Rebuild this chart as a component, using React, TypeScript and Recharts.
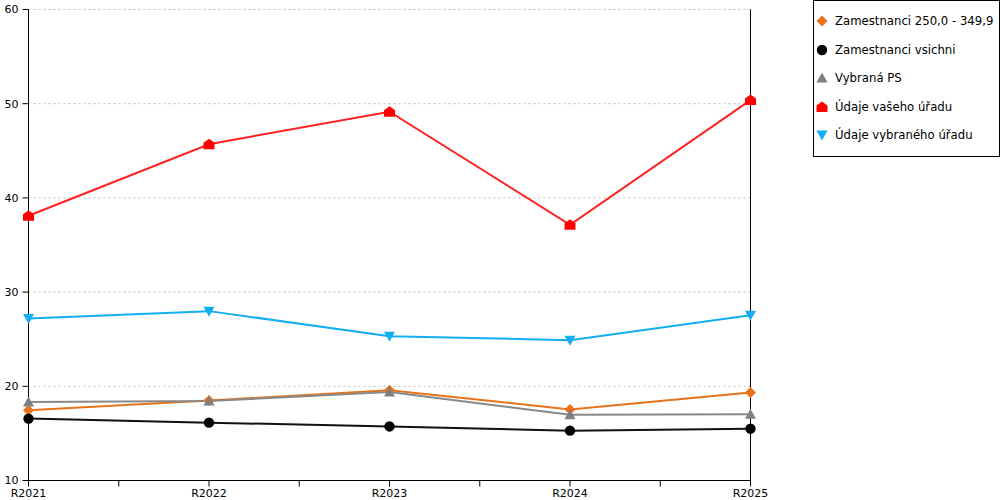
import React from 'react';
import { LineChart, Line, XAxis, YAxis, CartesianGrid, ReferenceLine } from 'recharts';

const YEARS = ['R2021', 'R2022', 'R2023', 'R2024', 'R2025'];
const ZAM_250 = [17.45, 18.5, 19.57, 17.55, 19.35];
const ZAM_ALL = [16.57, 16.14, 15.74, 15.29, 15.5];
const VYBRANA_PS = [18.33, 18.44, 19.39, 16.99, 17.02];
const VASEHO = [38.1, 45.7, 49.15, 37.15, 50.38];
const VYBRANEHO = [27.2, 27.98, 25.32, 24.9, 27.55];
const Y_TICKS = [10, 20, 30, 40, 50, 60];
const X_TICKS = [0, 0.5, 1, 1.5, 2, 2.5, 3, 3.5, 4];

const FONT = '"DejaVu Sans", Verdana, sans-serif';

type Kind = 'diamond' | 'circle' | 'up' | 'house' | 'down';

const SERIES: { key: string; name: string; color: string; line: string; kind: Kind; values: number[] }[] = [
  { key: 'zam250', name: 'Zamestnanci 250,0 - 349,9', color: '#E8731A', line: '#E8731A', kind: 'diamond', values: ZAM_250 },
  { key: 'zamAll', name: 'Zamestnanci vsichni', color: '#000000', line: '#111111', kind: 'circle', values: ZAM_ALL },
  { key: 'ps', name: 'Vybraná PS', color: '#808080', line: '#888888', kind: 'up', values: VYBRANA_PS },
  { key: 'vaseho', name: 'Údaje vašeho úřadu', color: '#FF0000', line: '#FF2020', kind: 'house', values: VASEHO },
  { key: 'vybraneho', name: 'Údaje vybraného úřadu', color: '#12AEEF', line: '#12AEEF', kind: 'down', values: VYBRANEHO },
];

const data = YEARS.map((year, i) => {
  const row: Record<string, number | string> = { x: i, year };
  SERIES.forEach((s) => {
    row[s.key] = s.values[i];
  });
  return row;
});

function markerPath(kind: Kind, cx: number, cy: number): string {
  switch (kind) {
    case 'diamond':
      return `M${cx},${cy - 5.5} L${cx + 5.5},${cy} L${cx},${cy + 5.5} L${cx - 5.5},${cy} Z`;
    case 'up':
      return `M${cx},${cy - 5.5} L${cx + 5.5},${cy + 4.5} L${cx - 5.5},${cy + 4.5} Z`;
    case 'down':
      return `M${cx - 5.5},${cy - 4.5} L${cx + 5.5},${cy - 4.5} L${cx},${cy + 5.5} Z`;
    case 'house':
      return `M${cx},${cy - 5.5} L${cx + 5.5},${cy - 1.5} L${cx + 5.5},${cy + 5} L${cx - 5.5},${cy + 5} L${cx - 5.5},${cy - 1.5} Z`;
    default:
      return '';
  }
}

function Marker({ kind, cx, cy, color }: { kind: Kind; cx: number; cy: number; color: string }) {
  if (kind === 'circle') return <circle cx={cx} cy={cy} r={5.2} fill={color} />;
  return <path d={markerPath(kind, cx, cy)} fill={color} />;
}

const formatX = (v: number) => (Number.isInteger(v) ? YEARS[v] : '');

export default function App() {
  return (
    <div style={{ position: 'absolute', left: 0, top: 0, width: 1000, height: 500, background: '#fff', fontFamily: FONT }}>
      <LineChart width={1000} height={500} data={data} margin={{ top: 9.5, right: 249.5, bottom: 0, left: 0.5 }}>
        <CartesianGrid horizontal={true} vertical={false} stroke="#bdbdbd" strokeDasharray="2 3" />
        <XAxis
          dataKey="x"
          type="number"
          domain={[0, 4]}
          ticks={X_TICKS}
          tickFormatter={formatX}
          interval={0}
          height={19.5}
          tickSize={6}
          tickMargin={3}
          axisLine={{ stroke: '#000', strokeWidth: 1 }}
          tickLine={{ stroke: '#000' }}
          tick={{ fill: '#000', fontSize: 11, fontFamily: FONT }}
        />
        <YAxis
          domain={[10, 60]}
          ticks={Y_TICKS}
          width={28}
          tickSize={6}
          tickMargin={4}
          axisLine={{ stroke: '#000', strokeWidth: 1 }}
          tickLine={{ stroke: '#000' }}
          tick={{ fill: '#000', fontSize: 11, fontFamily: FONT }}
        />
        <ReferenceLine x={4} stroke="#000" strokeWidth={1} />
        {SERIES.map((s) => (
          <Line
            key={s.key}
            dataKey={s.key}
            name={s.name}
            type="linear"
            stroke={s.line}
            strokeWidth={2}
            isAnimationActive={false}
            activeDot={false}
            dot={(p: any) => <Marker key={`${s.key}-${p.index}`} kind={s.kind} cx={p.cx} cy={p.cy} color={s.color} />}
          />
        ))}
      </LineChart>
      <div
        style={{
          position: 'absolute',
          left: 813,
          top: 0,
          width: 185,
          height: 155,
          border: '1px solid #000',
          background: '#fff',
          fontSize: 11.7,
          color: '#000',
        }}
      >
        {SERIES.map((s, i) => (
          <div
            key={s.key}
            style={{ position: 'absolute', left: 0, top: 11 + i * 28.6, height: 18, display: 'flex', alignItems: 'center', whiteSpace: 'nowrap' }}
          >
            <svg width={21} height={18} style={{ display: 'block' }}>
              <Marker kind={s.kind} cx={8} cy={9} color={s.color} />
            </svg>
            <span>{s.name}</span>
          </div>
        ))}
      </div>
    </div>
  );
}
